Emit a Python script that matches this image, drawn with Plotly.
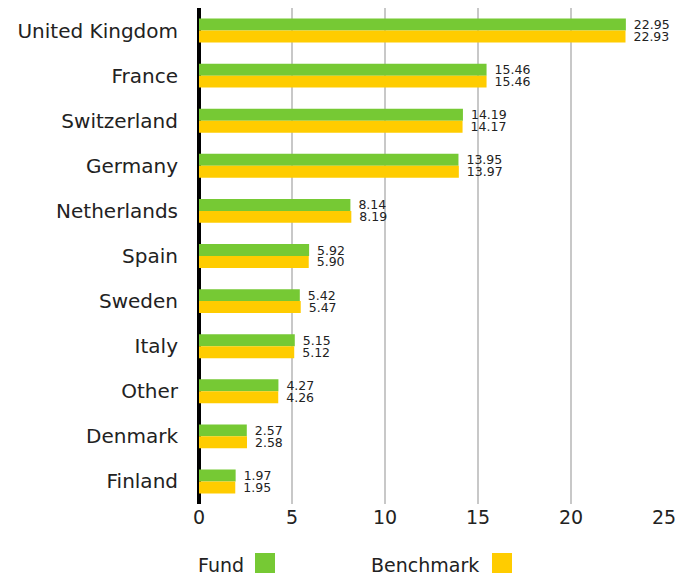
import plotly.graph_objects as go

countries = ["United Kingdom", "France", "Switzerland", "Germany", "Netherlands",
             "Spain", "Sweden", "Italy", "Other", "Denmark", "Finland"]
fund = [22.95, 15.46, 14.19, 13.95, 8.14, 5.92, 5.42, 5.15, 4.27, 2.57, 1.97]
benchmark = [22.93, 15.46, 14.17, 13.97, 8.19, 5.90, 5.47, 5.12, 4.26, 2.58, 1.95]
x_ticks = [0, 5, 10, 15, 20, 25]

GREEN = "#76C934"
YELLOW = "#FFCC00"
FONT = "DejaVu Sans"

# page body has an 8px margin, so the figure is drawn at (8, 8)
W, H = 682, 573
L, R, T, B = 191, 26, 0, 77

fig = go.Figure()
for name, vals, col in [("Fund", fund, GREEN), ("Benchmark", benchmark, YELLOW)]:
    fig.add_trace(go.Bar(
        y=countries, x=vals, orientation="h", name=name,
        marker=dict(color=col, line=dict(width=0)),
        text=[f"\u2009\u2009{v:.2f}" for v in vals], textposition="outside",
        textfont=dict(size=12.5, color="#222", family=FONT),
        constraintext="none", cliponaxis=False,
    ))

fig.update_layout(
    width=W, height=H,
    margin=dict(l=L, r=R, t=T, b=B, autoexpand=False),
    barmode="group", bargap=0.47, bargroupgap=0,
    plot_bgcolor="white", paper_bgcolor="white",
    showlegend=False,
    font=dict(family=FONT, color="#222"),
)
fig.update_xaxes(
    range=[0, 25], tickvals=x_ticks, ticktext=[str(t) for t in x_ticks],
    showgrid=True, gridcolor="#C8C8C8", gridwidth=2,
    zeroline=True, zerolinecolor="black", zerolinewidth=4,
    showline=False, ticks="", automargin=False,
    tickfont=dict(size=19, color="#222", family=FONT),
)
fig.update_yaxes(
    autorange="reversed", showgrid=False, showline=False, ticks="", automargin=False,
    tickfont=dict(size=20, color="#222", family=FONT), ticklabelstandoff=20,
)

pw, ph = W - L - R, H - T - B
def px(x):
    return (x - 8 - L) / pw
def py(y):
    return (H - B - (y - 8)) / ph

legend_items = [("Fund", GREEN, 196, 255), ("Benchmark", YELLOW, 369, 492)]
for label, col, tx, sx in legend_items:
    fig.add_annotation(
        x=px(tx), y=py(565), xref="paper", yref="paper", text=label, showarrow=False,
        xanchor="left", yanchor="middle", font=dict(size=19, color="#222", family=FONT),
    )
    fig.add_shape(
        type="rect", xref="paper", yref="paper",
        x0=px(sx), x1=px(sx + 20), y0=py(573), y1=py(553),
        fillcolor=col, line=dict(width=0),
    )

fig.write_html("out.html")
